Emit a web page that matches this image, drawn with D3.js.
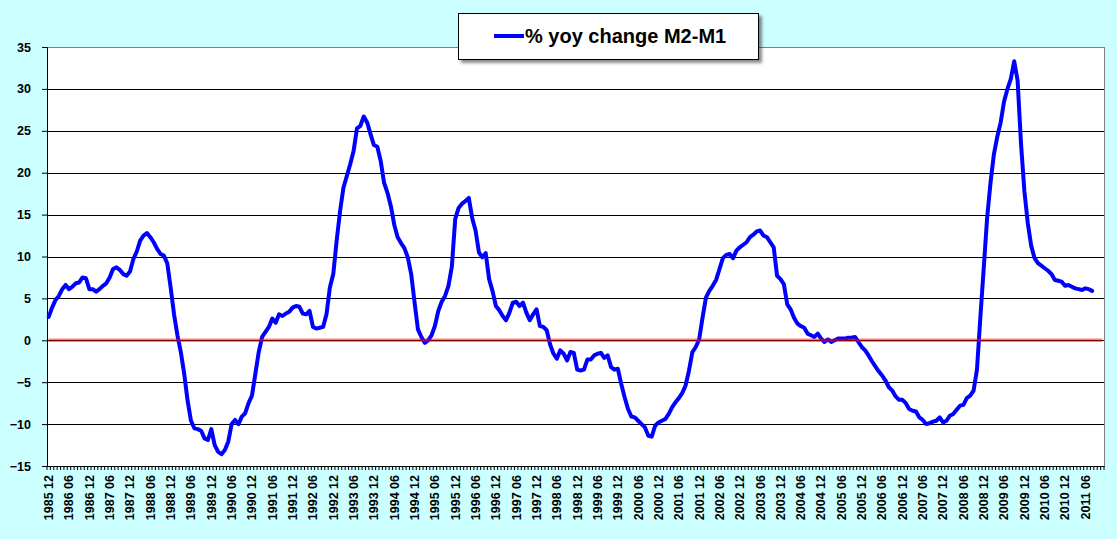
<!DOCTYPE html>
<html>
<head>
<meta charset="utf-8">
<script src="https://cdn.jsdelivr.net/npm/d3@7"></script>
<style>
  html, body { margin: 0; padding: 0; background: #ccffff; }
  svg { display: block; font-family: "Liberation Sans", Arial, sans-serif; }
</style>
</head>
<body>
<svg width="1117" height="539"></svg>
<script>
// monthly categories run from 1985 12 to 2011 11, data stops at 2011 08
var seriesName = '% yoy change M2-M1'
var firstMonth = [1985, 12]
var monthCount = 312
var labelEvery = 6
var yTicks = [-15, -10, -5, 0, 5, 10, 15, 20, 25, 30, 35]
var refLevels = [0]

var yoy = [
  2.8, 3.9, 4.8, 5.3, 6.1, 6.6, 6.1, 6.4, 6.8, 6.9, 7.5, 7.4,
  6.1, 6.1, 5.8, 6.1, 6.5, 6.8, 7.5, 8.5, 8.7, 8.4, 7.9, 7.7,
  8.2, 9.7, 10.6, 11.9, 12.5, 12.8, 12.3, 11.7, 10.9, 10.3, 10.1, 9.2,
  6.3, 3.1, 0.6, -1.4, -4.0, -7.2, -9.6, -10.5, -10.6, -10.8, -11.7, -11.9,
  -10.6, -12.5, -13.3, -13.6, -13.1, -12.1, -10.0, -9.5, -10.0, -9.1, -8.7, -7.5,
  -6.6, -4.0, -1.4, 0.4, 1.0, 1.6, 2.6, 2.1, 3.1, 2.9, 3.2, 3.4,
  3.9, 4.1, 4.0, 3.2, 3.1, 3.5, 1.6, 1.4, 1.5, 1.6, 3.1, 6.3,
  7.9, 11.9, 15.4, 18.2, 19.6, 21.0, 22.6, 25.3, 25.6, 26.7, 26.0, 24.6,
  23.3, 23.1, 21.4, 18.8, 17.6, 16.0, 13.8, 12.3, 11.6, 11.0, 9.9, 7.9,
  4.5, 1.3, 0.4, -0.3, 0.0, 0.6, 1.7, 3.5, 4.6, 5.3, 6.5, 8.8,
  14.5, 15.8, 16.3, 16.6, 17.0, 14.6, 13.1, 10.5, 9.9, 10.4, 7.3, 5.9,
  4.1, 3.6, 2.9, 2.4, 3.3, 4.5, 4.6, 4.1, 4.5, 3.3, 2.4, 3.1,
  3.7, 1.7, 1.6, 1.2, -0.5, -1.6, -2.2, -1.2, -1.6, -2.4, -1.4, -1.5,
  -3.5, -3.6, -3.5, -2.3, -2.3, -1.8, -1.6, -1.5, -2.1, -1.8, -3.2, -3.5,
  -3.4, -5.2, -6.8, -8.2, -9.1, -9.2, -9.6, -10.0, -10.4, -11.4, -11.5, -10.2,
  -9.8, -9.6, -9.4, -8.8, -8.0, -7.4, -6.9, -6.3, -5.4, -3.6, -1.4, -0.8,
  0.1, 2.7, 5.1, 5.9, 6.5, 7.2, 8.5, 9.8, 10.2, 10.3, 9.8, 10.7,
  11.1, 11.4, 11.7, 12.3, 12.6, 13.0, 13.1, 12.5, 12.3, 11.7, 11.1, 7.7,
  7.3, 6.7, 4.3, 3.7, 2.7, 2.0, 1.7, 1.5, 0.8, 0.6, 0.4, 0.8,
  0.2, -0.2, 0.1, -0.2, 0.0, 0.2, 0.2, 0.2, 0.3, 0.3, 0.4, -0.2,
  -0.8, -1.2, -1.8, -2.5, -3.1, -3.7, -4.2, -4.8, -5.6, -6.0, -6.7, -7.1,
  -7.1, -7.5, -8.2, -8.4, -8.5, -9.2, -9.5, -10.0, -9.9, -9.7, -9.6, -9.2,
  -9.8, -9.6, -9.0, -8.8, -8.3, -7.8, -7.7, -6.9, -6.6, -6.0, -3.5, 2.7,
  8.6, 14.6, 18.8, 22.2, 24.3, 26.0, 28.5, 30.0, 31.2, 33.3, 31.0, 23.5,
  17.8, 14.0, 11.3, 9.8, 9.2, 8.9, 8.6, 8.3, 7.9, 7.2, 7.1, 7.0,
  6.5, 6.6, 6.4, 6.2, 6.1, 6.0, 6.2, 6.1, 5.9
]

;(function (d3) {
  var svg = d3.select('svg')

  var width = 1117
  var height = 539
  var left = 47
  var right = 1104
  var top = 47
  var bottom = 466
  var font = '"Liberation Sans", Arial, sans-serif'

  var months = d3.range(monthCount).map(function (i) {
    var m = firstMonth[1] - 1 + i
    var yr = firstMonth[0] + Math.floor(m / 12)
    var mm = (m % 12) + 1
    return yr + ' ' + (mm < 10 ? '0' + mm : mm)
  })

  var x = d3.scaleBand()
        .domain(months)
        .range([left, right])
        .padding(0)

  var xc = function (d) {
    return x(d) + x.bandwidth() / 2
  }

  var y = d3.scaleLinear()
        .domain([yTicks[0], yTicks[yTicks.length - 1]])
        .range([bottom, top])

  svg.append('rect')
    .attr('width', width)
    .attr('height', height)
    .style('fill', '#ccffff')

  svg.append('rect')
    .attr('x', left)
    .attr('y', top)
    .attr('width', right - left)
    .attr('height', bottom - top)
    .style('fill', '#ffffff')
    .style('stroke', '#808080')
    .style('stroke-width', 1)
    .style('shape-rendering', 'crispEdges')

  // horizontal gridlines
  svg.append('g')
    .selectAll('line')
    .data(yTicks.slice(1, -1))
    .enter()
    .append('line')
    .attr('x1', left)
    .attr('x2', right)
    .attr('y1', function (d) { return Math.round(y(d)) + 0.5 })
    .attr('y2', function (d) { return Math.round(y(d)) + 0.5 })
    .style('stroke', '#000')
    .style('stroke-width', 1)

  // y axis
  var yAxis = svg.append('g')
        .attr('transform', 'translate(' + left + ',0)')
        .call(d3.axisLeft(y).tickValues(yTicks).tickSize(5).tickPadding(11))

  yAxis.selectAll('path, line').style('stroke', '#000')
  yAxis.selectAll('text')
    .style('font-family', font)
    .style('font-weight', 'bold')
    .style('font-size', '12.5px')
    .style('fill', '#000')

  // x axis: ticks between months, labels every 6 months
  var xAxis = svg.append('g')
        .attr('transform', 'translate(0,' + bottom + ')')
        .call(d3.axisBottom(x)
          .tickSize(0)
          .tickFormat(function (d, i) {
            return i % labelEvery === 0 ? d : ''
          }))

  xAxis.select('.domain').style('stroke', '#000')
  xAxis.selectAll('text')
    .attr('transform', 'rotate(-90)')
    .attr('x', -9)
    .attr('y', 0)
    .attr('dy', '0.35em')
    .style('text-anchor', 'end')
    .style('font-family', font)
    .style('font-weight', 'bold')
    .style('font-size', '12.5px')
    .style('fill', '#000')

  xAxis.selectAll('line.minor')
    .data(months.concat([null]))
    .enter()
    .append('line')
    .attr('class', 'minor')
    .attr('x1', function (d) { return d === null ? right : x(d) })
    .attr('x2', function (d) { return d === null ? right : x(d) })
    .attr('y1', 0)
    .attr('y2', 4)
    .style('stroke', '#000')
    .style('stroke-width', 1)

  var ln = d3.line()
        .x(function (d, i) {
          return xc(months[i])
        })
        .y(function (d) {
          return y(d)
        })

  svg.append('path')
    .datum(yoy)
    .attr('d', ln)
    .style('fill', 'none')
    .style('stroke', '#0000ff')
    .style('stroke-width', 4)
    .style('stroke-linejoin', 'round')
    .style('stroke-linecap', 'round')

  // zero reference line, drawn over the series
  svg.append('g')
    .selectAll('line')
    .data(refLevels)
    .enter()
    .append('line')
    .attr('x1', xc(months[0]))
    .attr('x2', xc(months[months.length - 1]))
    .attr('y1', function (d) { return y(d) })
    .attr('y2', function (d) { return y(d) })
    .style('stroke', '#ff0000')
    .style('stroke-opacity', 0.5)
    .style('stroke-width', 3.5)

  // legend
  var defs = svg.append('defs')
  defs.append('filter')
    .attr('id', 'shadow')
    .attr('x', '-10%')
    .attr('y', '-30%')
    .attr('width', '130%')
    .attr('height', '170%')
    .append('feDropShadow')
    .attr('dx', 3)
    .attr('dy', 3)
    .attr('stdDeviation', 1.5)
    .attr('flood-color', '#000')
    .attr('flood-opacity', 0.45)

  var legend = svg.append('g')

  legend.append('rect')
    .attr('x', 458.5)
    .attr('y', 13.5)
    .attr('width', 300)
    .attr('height', 46)
    .attr('filter', 'url(#shadow)')
    .style('fill', '#fff')
    .style('stroke', '#000')
    .style('stroke-width', 1)

  legend.append('line')
    .attr('x1', 494)
    .attr('x2', 524)
    .attr('y1', 36)
    .attr('y2', 36)
    .style('stroke', '#0000ff')
    .style('stroke-width', 4)

  legend.append('text')
    .attr('x', 525)
    .attr('y', 43)
    .text(seriesName)
    .style('font-family', font)
    .style('font-weight', 'bold')
    .style('font-size', '20px')
    .style('fill', '#000')
})(window.d3)
</script>
</body>
</html>
